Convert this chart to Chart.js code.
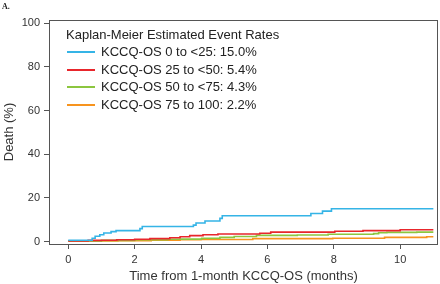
<!DOCTYPE html>
<html>
<head>
<meta charset="utf-8">
<script src="https://cdn.jsdelivr.net/npm/chart.js@4.4.1/dist/chart.umd.min.js"></script>
<style>
  html, body { margin: 0; padding: 0; background: #fff; }
  #wrap { position: relative; width: 440px; height: 284px; }
  #panel { position: absolute; left: 2px; top: 2px; font: bold 8px "Liberation Serif", serif; color: #222; }
  #legend { position: absolute; left: 66px; top: 26px; font: 13px "Liberation Sans", Arial, sans-serif; color: #222; }
  #legend .title { height: 17px; line-height: 17px; }
  #legend .row { height: 17.7px; line-height: 17.7px; display: flex; align-items: center; }
  #legend .swatch { width: 28px; height: 0; border-top: 2px solid; margin: 0 6px 0 1px; }
</style>
</head>
<body>
<div id="wrap">
  <canvas id="kmChart"></canvas>
  <div id="panel">A.</div>
  <div id="legend"></div>
</div>
<script>
// KCCQ-OS groups and the event rates printed in the legend
const groupNames = ['KCCQ-OS 0 to <25', 'KCCQ-OS 25 to <50', 'KCCQ-OS 50 to <75', 'KCCQ-OS 75 to 100'];
const finalRates = ['15.0%', '5.4%', '4.3%', '2.2%'];
const colors = ['#35b4e6', '#e8262c', '#8cc63f', '#f7941e'];

// step points (months, death %)
const months0_25 = [0, 0.72, 0.81, 0.95, 1.07, 1.29, 1.44, 2.16, 2.23, 3.77, 3.85, 4.12, 4.57, 4.64, 7.31, 7.66, 7.93, 11.0];
const death0_25  = [0.6, 1.5, 2.4, 3.1, 3.9, 4.5, 5.0, 5.9, 6.9, 7.5, 8.5, 9.4, 10.6, 11.8, 12.8, 13.9, 15.0, 15.0];

const months25_50 = [0, 0.6, 1.0, 1.46, 2.0, 2.46, 3.06, 3.37, 3.66, 4.06, 4.51, 5.77, 6.1, 8.03, 8.88, 10.0, 11.0];
const death25_50  = [0.3, 0.5, 0.6, 0.8, 1.0, 1.3, 1.7, 2.2, 2.7, 3.1, 3.4, 3.8, 4.3, 4.7, 5.0, 5.4, 5.4];

const months50_75 = [0, 1.0, 2.0, 3.0, 3.37, 4.02, 4.57, 5.0, 5.67, 6.9, 7.83, 9.2, 9.35, 9.6, 10.5, 11.0];
const death50_75  = [0.3, 0.5, 0.8, 1.0, 1.1, 1.5, 1.9, 2.3, 2.8, 3.0, 3.3, 3.6, 4.0, 4.2, 4.3, 4.3];

const months75_100 = [0, 1.5, 2.5, 3.37, 4.0, 5.56, 7.97, 9.53, 10.8, 11.0];
const death75_100  = [0.2, 0.4, 0.6, 0.8, 0.9, 1.3, 1.5, 1.9, 2.2, 2.2];

const xTicks = [0, 2, 4, 6, 8, 10];
const yTicks = [0, 20, 40, 60, 80, 100];

const allMonths = [months0_25, months25_50, months50_75, months75_100];
const allDeaths = [death0_25, death25_50, death50_75, death75_100];

const font = "'Liberation Sans', Arial, sans-serif";
const ink = '#333';
const axisGray = '#555';

// legend as html, same look as the R figure
const legendDiv = document.getElementById('legend');
legendDiv.innerHTML = '<div class="title">Kaplan-Meier Estimated Event Rates</div>' +
  groupNames.map((name, i) =>
    `<div class="row"><span class="swatch" style="border-color:${colors[i]}"></span>${name.replace('<', '&lt;')}: ${finalRates[i]}</div>`
  ).join('');

const boxPlugin = {
  id: 'box',
  afterDraw(chart) {
    const a = chart.chartArea;
    const c = chart.ctx;
    c.save();
    c.strokeStyle = axisGray;
    c.lineWidth = 1;
    c.strokeRect(a.left + 0.5, a.top + 0.5, a.right - a.left - 1, a.bottom - a.top);
    c.restore();
  }
};

const ctx = document.getElementById('kmChart').getContext('2d');
new Chart(ctx, {
  type: 'line',
  data: {
    datasets: allMonths.map((months, i) => ({
      label: groupNames[i],
      data: months.map((m, j) => ({ x: m, y: allDeaths[i][j] })),
      borderColor: colors[i],
      borderWidth: 1.6,
      pointRadius: 0,
      stepped: true,
      fill: false,
      order: i === 0 ? 0 : i
    })).reverse()
  },
  options: {
    responsive: true,
    maintainAspectRatio: false,
    animation: false,
    layout: { padding: { top: 20, right: 2, left: 0, bottom: 0 } },
    plugins: {
      legend: { display: false },
      tooltip: { enabled: false }
    },
    scales: {
      x: {
        type: 'linear',
        min: -0.58,
        max: 11.14,
        afterBuildTicks: s => { s.ticks = xTicks.map(v => ({ value: v })); },
        afterFit: s => { s.height = 40; },
        border: { display: false },
        grid: { drawOnChartArea: false, drawTicks: true, tickLength: 5, color: axisGray },
        ticks: { color: ink, font: { family: font, size: 11 }, padding: 4, maxRotation: 0 },
        title: { display: true, text: 'Time from 1-month KCCQ-OS (months)', color: ink,
                 font: { family: font, size: 13 }, padding: { top: 0, bottom: 0 } }
      },
      y: {
        min: -1.15,
        max: 101.5,
        afterBuildTicks: s => { s.ticks = yTicks.map(v => ({ value: v })); },
        afterFit: s => { s.width = 49; },
        border: { display: false },
        grid: { drawOnChartArea: false, drawTicks: true, tickLength: 5, color: axisGray },
        ticks: { color: ink, font: { family: font, size: 11 }, padding: 4 },
        title: { display: true, text: 'Death (%)', color: ink,
                 font: { family: font, size: 13 }, padding: { top: 2, bottom: 0 } }
      }
    }
  },
  plugins: [boxPlugin]
});
</script>
</body>
</html>
